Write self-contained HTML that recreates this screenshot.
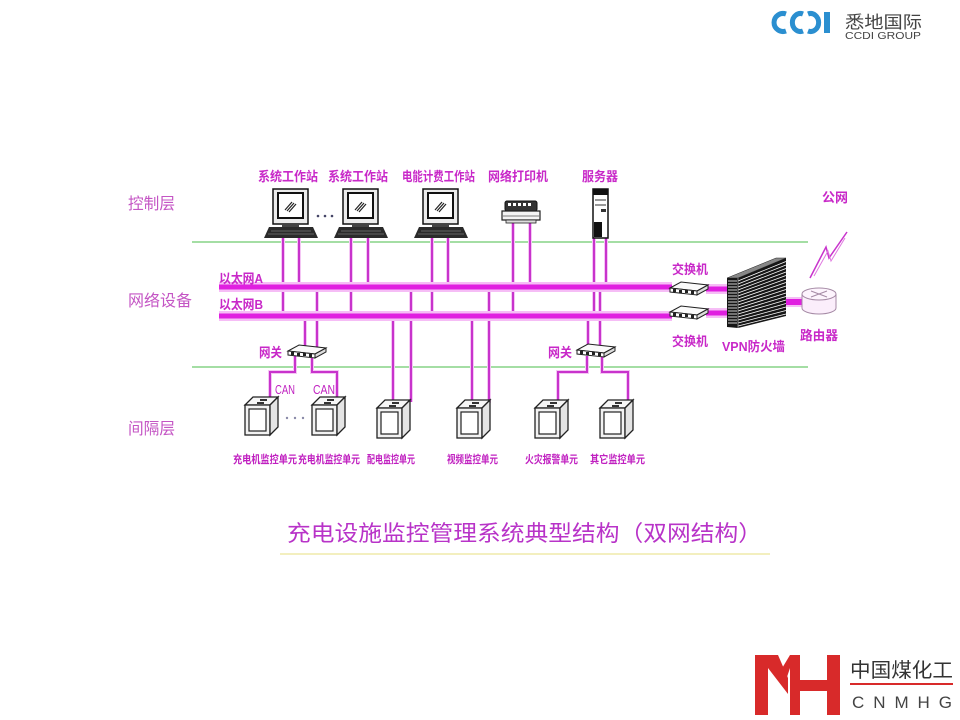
<!DOCTYPE html>
<html><head><meta charset="utf-8">
<style>
html,body{margin:0;padding:0;background:#fff;}
svg{display:block;}
text{font-family:"Liberation Sans","Noto Sans CJK SC",sans-serif;}
.lb{fill:#c828c8;font-weight:bold;font-size:13px;}
.ly{fill:#c455c4;font-size:16px;}
.un{fill:#c020c0;font-weight:bold;font-size:11px;}
</style></head>
<body>
<svg width="960" height="720" viewBox="0 0 960 720" xmlns="http://www.w3.org/2000/svg">
<defs>
  <g id="mon">
    <rect x="0" y="0" width="35" height="35" fill="#ececec" stroke="#111" stroke-width="1.5"/>
    <rect x="5" y="4" width="25" height="25" fill="#fff" stroke="#111" stroke-width="2"/>
    <line x1="12" y1="21" x2="19" y2="13" stroke="#222" stroke-width="1.2"/>
    <line x1="14" y1="22" x2="21" y2="14" stroke="#222" stroke-width="1.2"/>
    <line x1="16" y1="23" x2="23" y2="15" stroke="#222" stroke-width="1.2"/>
    <rect x="9" y="35" width="17" height="3" fill="#444"/>
    <polygon points="-4,38 40,38 45,49 -9,49" fill="#2b2b2b"/>
    <line x1="-2" y1="42" x2="38" y2="42" stroke="#777" stroke-width="0.7"/>
    <line x1="-5" y1="45" x2="41" y2="45" stroke="#777" stroke-width="0.7"/>
  </g>
  <g id="sw">
    <polygon points="0,6 11,0 38,3 27,9" fill="#fafafa" stroke="#222" stroke-width="1"/>
    <polygon points="0,6 27,9 27,13 0,10" fill="#fff" stroke="#222" stroke-width="1"/>
    <polygon points="27,9 38,3 38,7 27,13" fill="#ddd" stroke="#222" stroke-width="1"/>
    <rect x="3" y="7" width="3" height="3" fill="#222"/>
    <rect x="9" y="8" width="3" height="3" fill="#222"/>
    <rect x="15" y="8" width="3" height="3" fill="#222"/>
    <rect x="21" y="9" width="3" height="3" fill="#222"/>
  </g>
  <g id="unit">
    <polygon points="0,8 8,0 33,0 25,8" fill="#f6f6f6" stroke="#222" stroke-width="1.3"/>
    <rect x="0" y="8" width="25" height="30" fill="#f2f2f2" stroke="#222" stroke-width="1.3"/>
    <polygon points="25,8 33,0 33,30 25,38" fill="#e4e4e4" stroke="#222" stroke-width="1.3"/>
    <rect x="4" y="12" width="17" height="22" fill="#fff" stroke="#222" stroke-width="1.2"/>
    <rect x="15" y="2" width="7" height="2" fill="#333"/>
    <rect x="12" y="5" width="7" height="2" fill="#333"/>
  </g>
</defs>

<!-- Logo top right -->
<g fill="none" stroke="#2b8fd0" stroke-width="5">
  <path d="M786,14 A9,9 0 1 0 786,31"/>
  <path d="M803,14 A8,9 0 1 0 803,31"/>
  <path d="M808,14 A8,9 0 1 1 808,31"/>
</g>
<rect x="824" y="12" width="6" height="21" fill="#2b8fd0"/>
<text x="845" y="28" font-size="17" fill="#444" textLength="77" lengthAdjust="spacingAndGlyphs">悉地国际</text>
<text x="845" y="39" font-size="10" fill="#444" textLength="76" lengthAdjust="spacingAndGlyphs">CCDI GROUP</text>

<!-- green layer lines -->
<line x1="192" y1="242" x2="808" y2="242" stroke="#86d486" stroke-width="1.5"/>
<line x1="192" y1="367" x2="808" y2="367" stroke="#86d486" stroke-width="1.5"/>

<!-- left layer labels -->
<text class="ly" x="128" y="209" textLength="47" lengthAdjust="spacingAndGlyphs">控制层</text>
<text class="ly" x="128" y="306" textLength="64" lengthAdjust="spacingAndGlyphs">网络设备</text>
<text class="ly" x="128" y="434" textLength="47" lengthAdjust="spacingAndGlyphs">间隔层</text>

<!-- thin connection lines: halo -->
<g stroke="#f4c6f4" stroke-width="4" fill="none">
  <path d="M283,238V316 M299,238V287 M351,238V316 M368,238V287 M432,238V316 M448,238V287 M513,223V316 M530,223V287 M594,238V316 M606,238V287 M305,316V348 M317,287V348 M588,316V348 M600,287V348 M393,316V402 M411,287V402 M472,316V403 M489,287V403"/>
  <path d="M295,356V372H270V400 M312,356V372H337V400 M587,356V372H558V402 M602,356V372H628V402"/>
</g>
<g stroke="#c833cc" stroke-width="2" fill="none">
  <path d="M283,238V316 M299,238V287 M351,238V316 M368,238V287 M432,238V316 M448,238V287 M513,223V316 M530,223V287 M594,238V316 M606,238V287 M305,316V348 M317,287V348 M588,316V348 M600,287V348 M393,316V402 M411,287V402 M472,316V403 M489,287V403"/>
  <path d="M295,356V372H270V400 M312,356V372H337V400 M587,356V372H558V402 M602,356V372H628V402"/>
</g>

<!-- buses -->
<g stroke="#f6bdf6" stroke-width="10" fill="none">
  <line x1="219" y1="287" x2="672" y2="287"/>
  <line x1="219" y1="316" x2="672" y2="316"/>
  <line x1="706" y1="289" x2="732" y2="289"/>
  <line x1="706" y1="313" x2="732" y2="313"/>
  <line x1="784" y1="302" x2="805" y2="302"/>
</g>
<g stroke="#e01fe0" stroke-width="5" fill="none">
  <line x1="219" y1="287" x2="672" y2="287"/>
  <line x1="219" y1="316" x2="672" y2="316"/>
  <line x1="706" y1="289" x2="732" y2="289"/>
  <line x1="706" y1="313" x2="732" y2="313"/>
  <line x1="784" y1="302" x2="805" y2="302" stroke-width="6"/>
</g>

<text class="lb" x="219" y="283" textLength="44" lengthAdjust="spacingAndGlyphs">以太网A</text>
<text class="lb" x="219" y="309" textLength="44" lengthAdjust="spacingAndGlyphs">以太网B</text>

<!-- workstations -->
<use href="#mon" x="273" y="189"/>
<use href="#mon" x="343" y="189"/>
<use href="#mon" x="423" y="189"/>
<circle cx="318" cy="216" r="1.3" fill="#446"/>
<circle cx="325" cy="216" r="1.3" fill="#446"/>
<circle cx="332" cy="216" r="1.3" fill="#446"/>

<!-- printer -->
<rect x="505" y="201" width="32" height="10" rx="2" fill="#333" stroke="#111"/>
<rect x="508" y="203" width="3" height="3" fill="#fff"/>
<rect x="513" y="203" width="3" height="3" fill="#fff"/>
<rect x="518" y="203" width="3" height="3" fill="#fff"/>
<rect x="523" y="203" width="3" height="3" fill="#fff"/>
<rect x="528" y="203" width="3" height="3" fill="#fff"/>
<polygon points="502,211 540,211 540,220 502,220" fill="#f4f4f4" stroke="#222" stroke-width="1.2"/>
<line x1="503" y1="216" x2="539" y2="216" stroke="#555" stroke-width="0.8"/>
<rect x="506" y="220" width="30" height="3" fill="#ddd" stroke="#222" stroke-width="0.8"/>

<!-- server -->
<rect x="593" y="189" width="15" height="49" fill="#fff" stroke="#111" stroke-width="1.5"/>
<rect x="593" y="189" width="15" height="6" fill="#111"/>
<line x1="595" y1="200" x2="606" y2="200" stroke="#333"/>
<line x1="595" y1="205" x2="606" y2="205" stroke="#333"/>
<rect x="601" y="209" width="5" height="3" fill="#333"/>
<rect x="594" y="222" width="8" height="15" fill="#111"/>

<text class="lb" x="258" y="181" textLength="60" lengthAdjust="spacingAndGlyphs">系统工作站</text>
<text class="lb" x="328" y="181" textLength="60" lengthAdjust="spacingAndGlyphs">系统工作站</text>
<text class="lb" x="402" y="181" textLength="73" lengthAdjust="spacingAndGlyphs">电能计费工作站</text>
<text class="lb" x="488" y="181" textLength="60" lengthAdjust="spacingAndGlyphs">网络打印机</text>
<text class="lb" x="582" y="181" textLength="36" lengthAdjust="spacingAndGlyphs">服务器</text>

<!-- switches -->
<use href="#sw" x="670" y="282"/>
<use href="#sw" x="670" y="306"/>
<text class="lb" x="672" y="274" textLength="36" lengthAdjust="spacingAndGlyphs">交换机</text>
<text class="lb" x="672" y="346" textLength="36" lengthAdjust="spacingAndGlyphs">交换机</text>

<!-- firewall -->
<polygon points="727,278 738,278 738,328 727,327" fill="#161616"/>
<polygon points="738,278 786,258 786,316 738,328" fill="#161616"/>
<polygon points="727,278 776,258 786,258 738,278" fill="#888" stroke="#222" stroke-width="0.5"/>
<g stroke="#fff" stroke-width="0.8">
  <line x1="738" y1="281" x2="786" y2="261.5"/>
  <line x1="738" y1="284" x2="786" y2="265"/>
  <line x1="738" y1="287" x2="786" y2="268.5"/>
  <line x1="738" y1="290" x2="786" y2="272"/>
  <line x1="738" y1="293" x2="786" y2="275.5"/>
  <line x1="738" y1="296" x2="786" y2="279"/>
  <line x1="738" y1="299" x2="786" y2="282.5"/>
  <line x1="738" y1="302" x2="786" y2="286"/>
  <line x1="738" y1="305" x2="786" y2="289.5"/>
  <line x1="738" y1="308" x2="786" y2="293"/>
  <line x1="738" y1="311" x2="786" y2="296.5"/>
  <line x1="738" y1="314" x2="786" y2="300"/>
  <line x1="738" y1="317" x2="786" y2="303.5"/>
  <line x1="738" y1="320" x2="786" y2="307"/>
  <line x1="738" y1="323" x2="786" y2="310.5"/>
  <line x1="738" y1="326" x2="786" y2="314"/>
  <line x1="728" y1="281" x2="737" y2="281"/>
  <line x1="728" y1="284" x2="737" y2="284"/>
  <line x1="728" y1="287" x2="737" y2="287"/>
  <line x1="728" y1="290" x2="737" y2="290"/>
  <line x1="728" y1="293" x2="737" y2="293"/>
  <line x1="728" y1="296" x2="737" y2="296"/>
  <line x1="728" y1="299" x2="737" y2="299"/>
  <line x1="728" y1="302" x2="737" y2="302"/>
  <line x1="728" y1="305" x2="737" y2="305"/>
  <line x1="728" y1="308" x2="737" y2="308"/>
  <line x1="728" y1="311" x2="737" y2="311"/>
  <line x1="728" y1="314" x2="737" y2="314"/>
  <line x1="728" y1="317" x2="737" y2="317"/>
  <line x1="728" y1="320" x2="737" y2="320"/>
  <line x1="728" y1="323" x2="737" y2="323"/>
  <line x1="738" y1="278" x2="738" y2="328" stroke="#999"/>
</g>
<text class="lb" x="722" y="351" textLength="63" lengthAdjust="spacingAndGlyphs">VPN防火墙</text>

<!-- router -->
<rect x="802" y="294" width="34" height="14" fill="#fbeefb" stroke="none"/>
<ellipse cx="819" cy="308" rx="17" ry="6" fill="#fbeefb" stroke="#a58aa5" stroke-width="1"/>
<rect x="802" y="294" width="34" height="14" fill="#fbeefb"/>
<line x1="802" y1="294" x2="802" y2="308" stroke="#a58aa5"/>
<line x1="836" y1="294" x2="836" y2="308" stroke="#a58aa5"/>
<ellipse cx="819" cy="294" rx="17" ry="6" fill="#fdf4fd" stroke="#a58aa5" stroke-width="1"/>
<path d="M811,291 L827,297 M827,291 L811,297" stroke="#a58aa5" stroke-width="1"/>
<text class="lb" x="800" y="340" textLength="38" lengthAdjust="spacingAndGlyphs">路由器</text>

<!-- lightning -->
<polyline points="810,278 826,247 829,258 847,232" fill="none" stroke="#c833cc" stroke-width="1.5"/>
<polyline points="814,276 828,251 831,261 845,238" fill="none" stroke="#e07ae0" stroke-width="1"/>
<text class="lb" x="822" y="202" textLength="26" lengthAdjust="spacingAndGlyphs">公网</text>

<!-- gateways -->
<use href="#sw" x="288" y="345"/>
<use href="#sw" x="577" y="344"/>
<text class="lb" x="259" y="357" textLength="23" lengthAdjust="spacingAndGlyphs">网关</text>
<text class="lb" x="548" y="357" textLength="24" lengthAdjust="spacingAndGlyphs">网关</text>
<text x="275" y="394" font-size="13" fill="#c020c0" textLength="20" lengthAdjust="spacingAndGlyphs">CAN</text>
<text x="313" y="394" font-size="13" fill="#c020c0" textLength="22" lengthAdjust="spacingAndGlyphs">CAN</text>

<!-- units -->
<use href="#unit" x="245" y="397"/>
<use href="#unit" x="312" y="397"/>
<use href="#unit" x="377" y="400"/>
<use href="#unit" x="457" y="400"/>
<use href="#unit" x="535" y="400"/>
<use href="#unit" x="600" y="400"/>
<circle cx="287" cy="418" r="1.2" fill="#8a8aa8"/>
<circle cx="295" cy="418" r="1.2" fill="#8a8aa8"/>
<circle cx="303" cy="418" r="1.2" fill="#8a8aa8"/>

<text class="un" x="233" y="463" textLength="64" lengthAdjust="spacingAndGlyphs">充电机监控单元</text>
<text class="un" x="298" y="463" textLength="62" lengthAdjust="spacingAndGlyphs">充电机监控单元</text>
<text class="un" x="367" y="463" textLength="48" lengthAdjust="spacingAndGlyphs">配电监控单元</text>
<text class="un" x="447" y="463" textLength="51" lengthAdjust="spacingAndGlyphs">视频监控单元</text>
<text class="un" x="525" y="463" textLength="53" lengthAdjust="spacingAndGlyphs">火灾报警单元</text>
<text class="un" x="590" y="463" textLength="55" lengthAdjust="spacingAndGlyphs">其它监控单元</text>

<!-- title -->
<line x1="280" y1="554" x2="770" y2="554" stroke="#f3efbf" stroke-width="2"/>
<text x="287" y="541" font-size="22" fill="#b833c8" textLength="475" lengthAdjust="spacingAndGlyphs">充电设施监控管理系统典型结构（双网结构）</text>

<!-- bottom right logo -->
<g fill="#d82a2a">
  <rect x="755" y="655" width="13" height="60"/>
  <polygon points="768,655 778,655 788,678 788,694 768,668"/>
  <polygon points="790,655 800,655 800,715 790,715"/>
  <polygon points="790,655 790,668 786,680 781,670"/>
  <rect x="800" y="680" width="27" height="11"/>
  <rect x="827" y="655" width="13" height="60"/>
</g>
<text x="850" y="677" font-size="20" fill="#333" textLength="103" lengthAdjust="spacingAndGlyphs">中国煤化工</text>
<line x1="850" y1="684" x2="953" y2="684" stroke="#d82a2a" stroke-width="2"/>
<text x="852" y="708" font-size="17" fill="#444" textLength="100" lengthAdjust="spacing">CNMHG</text>
</svg>
</body></html>
